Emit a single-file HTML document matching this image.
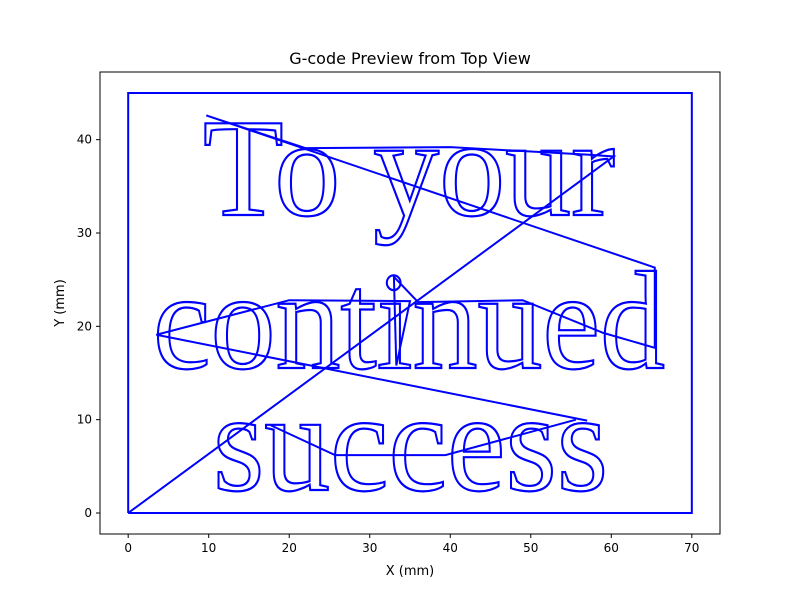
<!DOCTYPE html>
<html><head><meta charset="utf-8"><style>
body{margin:0;background:#fff;}
svg{display:block;font-family:"DejaVu Sans","Liberation Sans",sans-serif;}
</style></head><body>
<svg id="chart" width="800" height="600" viewBox="0 0 800 600">
<rect width="800" height="600" fill="#fff"/>
<text x="410" y="64" font-size="16" text-anchor="middle" fill="#000">G-code Preview from Top View</text>
<g id="plot"></g>
<g id="letters">
<text x="203" y="215" font-family="Liberation Serif, serif" font-size="140" fill="none" stroke="#0000ff" stroke-width="2.2" textLength="412" lengthAdjust="spacingAndGlyphs">To your</text>
<text x="153" y="368" font-family="Liberation Serif, serif" font-size="140" fill="none" stroke="#0000ff" stroke-width="2.2" textLength="512" lengthAdjust="spacingAndGlyphs">continued</text>
<text x="213" y="490" font-family="Liberation Serif, serif" font-size="142" fill="none" stroke="#0000ff" stroke-width="2.2" textLength="395" lengthAdjust="spacingAndGlyphs">success</text>
</g>
<text x="410" y="575" font-size="13" text-anchor="middle">X (mm)</text>
<text x="0" y="0" font-size="13" text-anchor="middle" transform="translate(64,303) rotate(-90)">Y (mm)</text>
</svg>
<script>
const xTicks=[0,10,20,30,40,50,60,70];
const yTicks=[0,10,20,30,40];
const borderX=[0,0,70,70,0];
const borderY=[0,45,45,0,0];
const travelX=[0,60.3,57,40,22,9.7,65.4,65.4,59,49,36,33,33.3,35,20,3.5,57];
const travelY=[0,38.2,38.4,39.2,39.1,42.6,26.3,17.7,19.3,22.8,22.6,25.3,15.8,22.7,22.8,19.1,9.9];
const bottomX=[17.7,25.7,39.4,55.6];
const bottomY=[9.4,6.2,6.2,10];
const L=100,R=720,T=72,B=534,xmin=-3.5,xmax=73.5,ymin=-2.25,ymax=47.25;
const sx=v=>L+(v-xmin)/(xmax-xmin)*(R-L);
const sy=v=>B-(v-ymin)/(ymax-ymin)*(B-T);
const NS="http://www.w3.org/2000/svg";
const g=document.getElementById('plot');
function mk(t,a){const e=document.createElementNS(NS,t);for(const k in a)e.setAttribute(k,a[k]);return e;}
function poly(xs,ys,name){
 const p=mk('polyline',{points:xs.map((x,i)=>sx(x)+','+sy(ys[i])).join(' '),fill:'none',stroke:'#0000ff','stroke-width':2});
 
 
 g.appendChild(p);
}
poly(borderX,borderY,'border-path');
poly(travelX,travelY,'travel-path');
poly(bottomX,bottomY,'bottom-travel-path');
const frame=mk('rect',{x:L,y:T,width:R-L,height:B-T,fill:'none',stroke:'#000','stroke-width':1});


g.appendChild(frame);
xTicks.forEach(v=>{
 const t=mk('line',{x1:sx(v),x2:sx(v),y1:B,y2:B+4,stroke:'#000'});
 
 
 g.appendChild(t);
 const l=mk('text',{x:sx(v),y:B+18,'font-size':12,'text-anchor':'middle'});l.textContent=v;
 
 
 g.appendChild(l);
});
yTicks.forEach(v=>{
 const t=mk('line',{x1:L-4,x2:L,y1:sy(v),y2:sy(v),stroke:'#000'});
 
 
 g.appendChild(t);
 const l=mk('text',{x:L-8,y:sy(v)+4,'font-size':12,'text-anchor':'end'});l.textContent=v;
 
 
 g.appendChild(l);
});
</script>
</body></html>
